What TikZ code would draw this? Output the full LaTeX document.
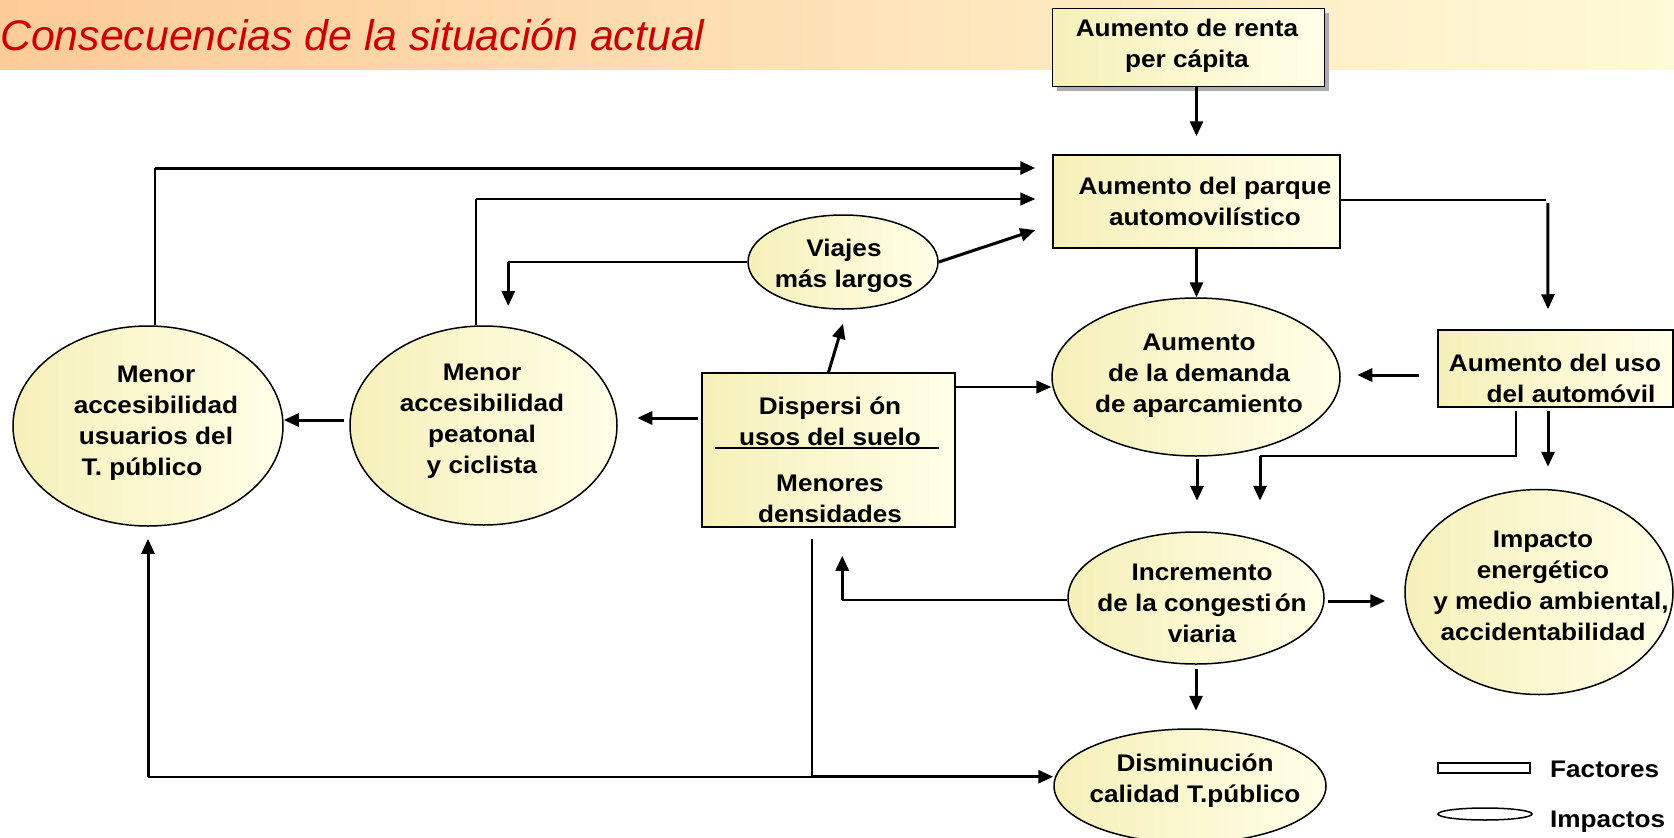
\documentclass[tikz,border=0pt]{standalone}
\usepackage{fontspec}
\setmainfont{Liberation Sans}[FakeStretch=1.09]
\newfontfamily\titlefont{Liberation Sans}
\usetikzlibrary{arrows.meta,shapes.geometric,calc}
\definecolor{bandL}{RGB}{252,203,152}
\definecolor{bandR}{RGB}{255,250,215}
\definecolor{creamA}{RGB}{246,240,186}
\definecolor{creamB}{RGB}{255,255,232}
\definecolor{titlered}{RGB}{204,0,0}
\begin{document}
\begin{tikzpicture}[x=1pt,y=-1pt,
  shp/.style={draw=black, line width=1.5pt, inner sep=0pt, left color=creamA, right color=creamB},
  boxf/.style={shp, rectangle},
  ell/.style={shp, ellipse},
  txt/.style={font=\bfseries\fontsize{24}{31}\selectfont, align=center, inner sep=0pt},
  thn/.style={line width=1.5pt},
  thk/.style={line width=3pt},
  arr/.style={-{Triangle[length=15pt,width=13pt]}},
]
\useasboundingbox (0,0) rectangle (1674,838);
% header band
\shade[left color=bandL, right color=bandR] (0,0) rectangle (1674,69);
\node[anchor=base west, inner sep=0pt, font=\titlefont\itshape\fontsize{42.8}{50}\selectfont, text=titlered] (title) at (0,50) {Consecuencias de la situación actual};

% shapes
\node[fill=gray!65, inner sep=0pt, minimum width=272pt, minimum height=78pt] (renta-sh) at (1192.5,51.5) {};
\node[boxf, minimum width=272pt, minimum height=78pt] (renta) at (1188.5,47.5) {};
\node[boxf, minimum width=287pt, minimum height=93pt] (parque) at (1196.5,201.5) {};
\node[ell, minimum width=190pt, minimum height=94pt] (viajes) at (843,262) {};
\node[boxf, minimum width=253pt, minimum height=154pt] (disp) at (828.5,450) {};
\node[ell, minimum width=267pt, minimum height=199pt] (peat) at (483.5,425.5) {};
\node[ell, minimum width=270pt, minimum height=200pt] (usu) at (148,426) {};
\node[ell, minimum width=288pt, minimum height=158pt] (apar) at (1196,377) {};
\node[boxf, minimum width=235pt, minimum height=77pt] (uso) at (1555.5,368.5) {};
\node[ell, minimum width=256pt, minimum height=132pt] (cong) at (1196,598) {};
\node[ell, minimum width=272pt, minimum height=114pt] (dism) at (1190,786) {};
\node[ell, minimum width=268pt, minimum height=205pt] (imp) at (1539,592) {};

% texts
\node[txt] (renta-t) at (1187,46) {Aumento de renta\\per cápita};
\node[txt] (parque-t) at (1205,201) {Aumento del parque\\automovilístico};
\node[txt] (viajes-t) at (844,265.5) {Viajes\\más largos};
\node[txt] (disp-t1) at (830,421.5) {Dispersi ón\\usos del suelo};
\node[txt] (disp-t2) at (830,499) {Menores\\densidades};
\coordinate (sepL) at ($(disp.center)+(-113.5,-2)$);
\coordinate (sepR) at ($(disp.center)+(110.5,-2)$);
\draw[line width=1.3pt] (sepL) -- (sepR);
\node[txt] (peat-t) at (482,421) {Menor\\accesibilidad\\peatonal\\y ciclista};
\node[txt] (usu-t) at (156,423) {Menor\\accesibilidad\\usuarios del\\T. público\rule{28pt}{0pt}};
\node[txt] (apar-t) at (1199,376) {Aumento\\de la demanda\\de aparcamiento};
\node[txt] (uso-t) at (1555,378) {Aumento del uso\\\rule{32pt}{0pt}del automóvil};
\node[txt] (cong-t) at (1202,603) {Incremento\\de la congesti\kern3pt ón\\viaria};
\node[txt] (imp-t) at (1543,585.5) {Impacto\\energético\\\rule{16pt}{0pt}y medio ambiental,\\accidentabilidad};
\node[txt] (dism-t) at (1195,781) {Disminución\\calidad T.público};

% legend
\node[draw, line width=1.5pt, inner sep=0pt, minimum width=92pt, minimum height=10pt] (legbox) at (1484,768) {};
\node[draw, ellipse, line width=1.5pt, inner sep=0pt, minimum width=94pt, minimum height=12pt] (legell) at (1485,814) {};
\node[txt, anchor=base west] (legbox-t) at (1550,777) {Factores};
\node[txt, anchor=base west] (legell-t) at (1550,827) {Impactos};

% coordinates
\coordinate (tA) at ($(parque.west)+(-17,-33.5)$);
\coordinate (tB) at ($(parque.west)+(-17,-2.5)$);
\coordinate (tC) at ($(parque.west)+(-17,28.5)$);
\coordinate (uA) at (usu.north |- tA);
\coordinate (uA) at ($(uA)+(7,0)$);
\coordinate (pA) at ($(peat.north |- tB)+(-7.5,0)$);
\coordinate (vL) at ($(viajes.west)+(-239,0)$);
\coordinate (vT) at ($(vL)+(0,44)$);
\coordinate (dA) at ($(disp.east)+(0,-63)$);
\coordinate (dW) at ($(disp.west)+(-3,-32)$);
\coordinate (pW) at ($(peat.west)+(-5,-5.5)$);
\coordinate (qR) at ($(parque.east)+(205,-1.5)$);
\coordinate (uB) at ($(uso.south)+(-39.5,48)$);
\coordinate (uC) at ($(apar.south)+(64,-1)$);
\coordinate (cT) at ($(apar.south)+(1,44)$);
\coordinate (cL) at ($(cong.west)+(-225,2)$);
\coordinate (dB) at ($(disp.south)+(-16.5,11)$);
\coordinate (dC) at ($(dB)+(0,238)$);
\coordinate (uD) at (usu.south |- dC);

% connectors
\draw[thk,arr] (renta.south -| parque.north) -- ([yshift=18pt]parque.north);
\draw[thn] (usu.north -| uA) -- (uA);
\draw[thk,arr] (uA) -- (tA);
\draw[thn] (peat.north -| pA) -- (pA);
\draw[thn,arr] (pA) -- (tB);
\draw[thk,arr] (viajes.east) -- (tC);
\draw[thn] (viajes.west) -- (vL);
\draw[thk,arr] (vL) -- (vT);
\draw[thk,arr] (disp.north) -- ([yshift=-14pt]viajes.south);
\draw[thn,arr] (dA) -- (dA -| apar.west);
\draw[thk,arr] (dW) -- ($(dW)+(-61,0)$);
\draw[thk,arr] (pW) -- (pW -| usu.east);
\draw[thk,arr] (parque.south) -- (parque.south |- apar.north);
\draw[thn] (parque.east |- qR) -- (qR);
\draw[thk,arr] ($(qR)+(2,3)$) -- ($(uso.north)+(-7.5,-20)$);
\draw[thk,arr] ($(uso.west)+(-18,6.5)$) -- ($(uso.west)+(-80,6.5)$);
\draw[thk,arr] ($(uso.south)+(-7.5,3)$) -- ($(imp.north)+(9,-22)$);
\draw[thn] ($(uso.south)+(-39.5,3)$) -- (uB) -- (uC);
\draw[thk,arr] (uC) -- (uC |- cT);
\draw[thk,arr] ($(apar.south)+(1,2)$) -- (cT);
\draw[thk,arr] ($(cong.south)+(0,4)$) -- ($(cong.south)+(0,46)$);
\draw[thk,arr] ($(cong.east)+(3,3)$) -- ($(imp.west)+(-19,9)$);
\draw[thn] (cong.west |- cL) -- (cL);
\draw[thk,arr] (cL) -- ($(disp.south -| cL)+(0,28)$);
\draw[thn] (dB) -- (dC) -- (uD);
\draw[thk,arr] (uD) -- ($(usu.south)+(0,12)$);
\draw[thk,arr] (dC) -- (dC -| dism.west);
\end{tikzpicture}
\end{document}
